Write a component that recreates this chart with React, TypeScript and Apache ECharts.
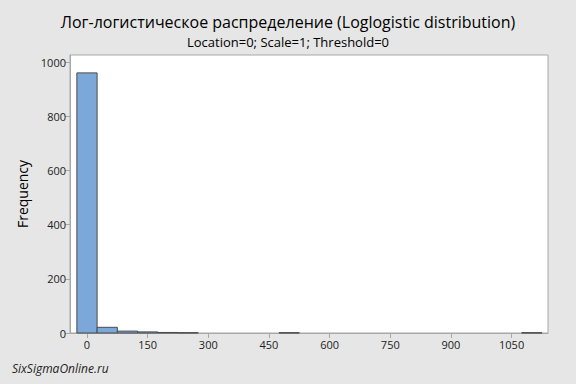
import React, { useEffect, useRef } from "react";
import * as echarts from "echarts";

const binStarts = [-25, 25, 75, 125, 175, 225, 475, 1075];
const binWidth = 50;
const counts = [960, 21, 7, 4, 2, 1, 1, 1];
const xTicks = [0, 150, 300, 450, 600, 750, 900, 1050];
const yTicks = [0, 200, 400, 600, 800, 1000];
const titleText = "Лог-логистическое распределение (Loglogistic distribution)";
const subtitleText = "Location=0; Scale=1; Threshold=0";
const yName = "Frequency";
const watermark = "SixSigmaOnline.ru";

export default function App() {
  const ref = useRef<HTMLDivElement>(null);
  useEffect(() => {
    document.body.style.margin = "0";
    const chart = echarts.init(ref.current!, null, { renderer: "svg" });
    const data = binStarts.map((s, i) => [s, s + binWidth, counts[i]]);
    const font = "Open Sans";
    chart.setOption({
      animation: false,
      backgroundColor: "#e6e6e6",
      textStyle: { fontFamily: font },
      title: [
        {
          text: titleText,
          left: "center",
          top: 9,
          textStyle: { fontSize: 16, fontWeight: "normal", color: "#000", fontFamily: font },
        },
        {
          text: subtitleText,
          left: "center",
          top: 30,
          textStyle: { fontSize: 13, fontWeight: "normal", color: "#000", fontFamily: font },
        },
      ],
      grid: {
        left: 70,
        right: 28,
        top: 55,
        bottom: 51,
        show: true,
        backgroundColor: "#ffffff",
        borderColor: "#a8a8a8",
        borderWidth: 1,
      },
      xAxis: {
        type: "value",
        min: -42,
        max: 1140,
        splitLine: { show: false },
        axisLine: { show: true, onZero: false, lineStyle: { color: "#a8a8a8" } },
        axisTick: { show: true, length: 5, customValues: xTicks, lineStyle: { color: "#a8a8a8" } },
        axisLabel: {
          customValues: xTicks,
          color: "#222",
          fontSize: 11,
          margin: 6,
          fontFamily: font,
          formatter: (v: number) => String(v),
        },
      },
      yAxis: {
        type: "value",
        min: 0,
        max: 1026,
        name: yName,
        nameLocation: "middle",
        nameGap: 32,
        nameTextStyle: { fontSize: 14, color: "#000", fontFamily: font },
        splitLine: { show: false },
        axisLine: { show: true, onZero: false, lineStyle: { color: "#a8a8a8" } },
        axisTick: { show: true, length: 5, customValues: yTicks, lineStyle: { color: "#a8a8a8" } },
        axisLabel: {
          customValues: yTicks,
          color: "#222",
          fontSize: 11,
          margin: 4,
          fontFamily: font,
          formatter: (v: number) => String(v),
        },
      },
      graphic: [
        {
          type: "text",
          left: 12,
          top: 362,
          style: {
            text: watermark,
            fontSize: 12,
            fontStyle: "italic",
            fill: "#222",
            fontFamily: font,
          },
        },
      ],
      series: [
        {
          type: "custom",
          data,
          encode: { x: [0, 1], y: 2 },
          renderItem: (params: any, api: any) => {
            const p0 = api.coord([api.value(0), api.value(2)]);
            const p1 = api.coord([api.value(1), 0]);
            return {
              type: "rect",
              shape: { x: p0[0], y: p0[1], width: p1[0] - p0[0], height: p1[1] - p0[1] },
              style: { fill: "#7ba7d9", stroke: "#4a4a4a", lineWidth: 1 },
            };
          },
        },
      ],
    });
    return () => chart.dispose();
  }, []);
  return <div ref={ref} style={{ position: "fixed", left: 0, top: 0, width: 576, height: 384 }} />;
}
